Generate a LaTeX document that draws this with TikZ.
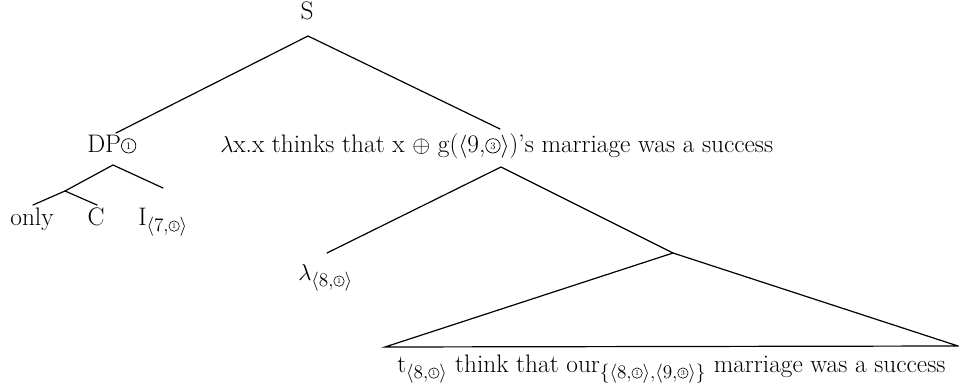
\documentclass[tikz,border=0pt]{standalone}
\usepackage{amsmath}
\newcommand{\circbig}[1]{\begin{tikzpicture}[baseline={([yshift=0.3pt]cc.south)}]\node[circle,draw,line width=0.55pt,minimum size=10.8pt,inner sep=0pt,font=\fontsize{7.5}{7.5}\selectfont](cc){#1};\end{tikzpicture}}
\newcommand{\circsmall}[1]{\begin{tikzpicture}[baseline={([yshift=0.1pt]cc.south)}]\node[circle,draw,line width=0.45pt,minimum size=7.8pt,inner sep=0pt,font=\fontsize{5.5}{5.5}\selectfont](cc){#1};\end{tikzpicture}}
\newcommand{\cs}[1]{\text{\circsmall{#1}}}
\begin{document}
\begin{tikzpicture}[x=0.75pt,y=-0.75pt,
  lbl/.style={font=\fontsize{19}{22}\selectfont, inner sep=0pt},
  edge/.style={line width=0.9pt, line cap=round, line join=miter}]
\useasboundingbox (0,0) rectangle (959,388);
% labels
\node[lbl, anchor=base] (S) at (307,20) {S};
\node[lbl, anchor=base west] (DP) at (87,153) {DP\circbig{1}};
\node[lbl, anchor=base west] (M) at (220,153) {$\lambda$x.x thinks that x $\oplus$ g($\langle$9,\circbig{3}$\rangle$)’s marriage was a success};
\node[lbl, anchor=base] (only) at (32,225) {only};
\node[lbl, anchor=base] (C) at (96,225) {C};
\node[lbl, anchor=base west] (I) at (138,225) {I$_{\langle 7,\cs{1}\rangle}$};
\node[lbl, anchor=base west] (L) at (298,280) {$\lambda_{\langle 8,\cs{1}\rangle}$};
\node[lbl, anchor=base west] (T) at (397,372) {t$_{\langle 8,\cs{1}\rangle}$ think that our$_{\{\langle 8,\cs{1}\rangle,\langle 9,\cs{3}\rangle\}}$ marriage was a success};
% attachment points
\coordinate (S-b) at (308,36);
\coordinate (DP-t) at (116,133);
\coordinate (DP-b) at (113,165);
\coordinate (M-t) at (500,129);
\coordinate (M-b) at (501,167);
\coordinate (X) at (65,191);
\coordinate (only-t) at (33,205);
\coordinate (C-t) at (97,205);
\coordinate (I-t) at (163,188);
\coordinate (L-t) at (327,253);
\coordinate (R) at (673,253);
\coordinate (TL) at (385,347);
\coordinate (TR) at (958,346);
% edges
\draw[edge] (DP-t) -- (S-b) -- (M-t);
\draw[edge] (X) -- (DP-b) -- (I-t);
\draw[edge] (only-t) -- (X) -- (C-t);
\draw[edge] (L-t) -- (M-b) -- (R);
\draw[edge] (TL) -- (R) -- (TR) -- cycle;
\end{tikzpicture}
\end{document}
